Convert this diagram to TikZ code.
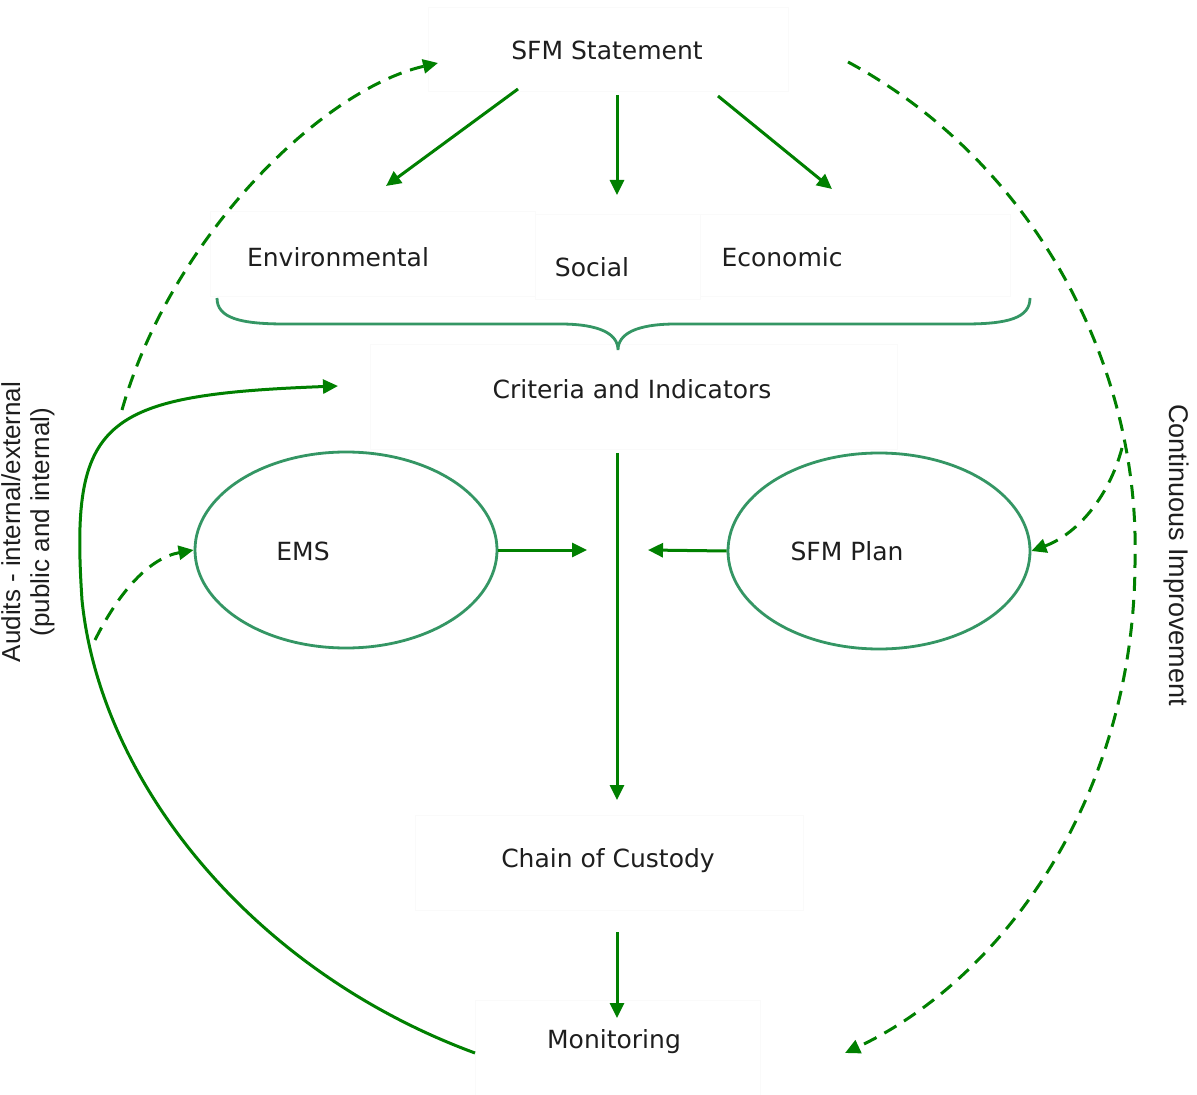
\documentclass[tikz,border=0pt]{standalone}
\usepackage{fontspec}
\setmainfont{DejaVu Sans}
\newfontfamily\libsans{Liberation Sans}
\usetikzlibrary{arrows.meta,shapes.geometric}
\definecolor{arrgreen}{RGB}{0,128,0}
\definecolor{shapegreen}{RGB}{52,150,100}
\definecolor{txtgray}{RGB}{30,30,30}
\begin{document}
\begin{tikzpicture}[x=0.5pt,y=-0.5pt,
  lbl/.style={font=\fontsize{12.5}{15}\selectfont, text=txtgray, inner sep=0pt},
  sidelbl/.style={font=\libsans\fontsize{13.5}{16}\selectfont, text=txtgray, inner sep=0pt},
  conn/.style={draw=arrgreen, line width=1.5pt, -{Triangle[length=7.5pt,width=7pt]}},
  dashconn/.style={conn, dash pattern=on 7pt off 4.5pt},
  oval/.style={draw=shapegreen, line width=1.4pt, ellipse, minimum width=151pt, minimum height=98pt, inner sep=0pt},
  ghost/.style={draw=black!2, line width=0.5pt},
  bracestyle/.style={draw=shapegreen, line width=1.4pt}]
\useasboundingbox (0,0) rectangle (1197,1095);
\fill[white] (0,0) rectangle (1197,1095);

% faint text frames
\draw[ghost] (428,8) rectangle (788,92);
\draw[ghost] (210,212) rectangle (535,297);
\draw[ghost] (535,215) rectangle (700,300);
\draw[ghost] (700,215) rectangle (1010,297);
\draw[ghost] (370,345) rectangle (897,450);
\draw[ghost] (415,815) rectangle (803,910);
\draw[ghost] (475,1000) rectangle (760,1095);

% texts
\node[lbl] (sfm) at (607,50) {SFM Statement};
\node[lbl] (env) at (338,257) {Environmental};
\node[lbl] (soc) at (592,267) {Social};
\node[lbl] (eco) at (782,257) {Economic};
\node[lbl] (crit) at (632,389) {Criteria and Indicators};
\node[oval] (emsO) at (346,550) {};
\node[lbl] (ems) at (303,551) {EMS};
\node[oval] (planO) at (879,551) {};
\node[lbl] (plan) at (847,551) {SFM Plan};
\node[lbl] (coc) at (608,861) {Chain of Custody};
\node[lbl] (mon) at (614,1042) {Monitoring};
\node[sidelbl, rotate=-90] (contimp) at (1176,555) {Continuous Improvement};
\node[sidelbl, font=\libsans\fontsize{13}{14.5}\selectfont, rotate=90, align=center] (audits) at (28,522) {Audits - internal/external\\(public and internal)};

% brace
\draw[bracestyle] (217,298) .. controls (217,318) and (240,324) .. (285,324)
  -- (560,324) .. controls (600,324) and (618,334) .. (618,350)
  .. controls (618,334) and (636,324) .. (676,324)
  -- (965,324) .. controls (1008,324) and (1030,318) .. (1030,298);

% endpoints
\coordinate (sfmA) at (518,89);  \coordinate (envT) at (386,186);
\coordinate (sfmB) at (617,95);  \coordinate (socT) at (617,195);
\coordinate (sfmC) at (718,96);  \coordinate (ecoT) at (832,189);
\coordinate (critB) at (617,453); \coordinate (cocT) at (617,800);
\coordinate (emsTo) at (587,550); \coordinate (planTo) at (648,550);
\coordinate (cocB) at (617,932); \coordinate (monT) at (617,1018);
\coordinate (monL) at (475,1053); \coordinate (critL) at (338,386);
\coordinate (audA) at (122,410); \coordinate (sfmL) at (438,63);
\coordinate (audB) at (95,640);
\coordinate (sfmR) at (848,62); \coordinate (monR) at (845,1053);
\coordinate (ciA) at (1122,448);

% solid arrows
\draw[conn] (sfmA) -- (envT);
\draw[conn] (sfmB) -- (socT);
\draw[conn] (sfmC) -- (ecoT);
\draw[conn] (critB) -- (cocT);
\draw[conn] (emsO.east) -- (emsTo);
\draw[conn] (planO.west) -- (planTo);
\draw[conn] (cocB) -- (monT);
\draw[conn] (monL) .. controls (250,970) and (100,780) .. (82,600)
  .. controls (70,420) and (100,395) .. (critL);

% dashed arrows
\draw[dashconn] (audA) .. controls (170,240) and (320,90) .. (sfmL);
\draw[dashconn] (audB) .. controls (120,590) and (150,558) .. (emsO.west);
\draw[dashconn] (sfmR) .. controls (1030,160) and (1140,360) .. (1135,560)
  .. controls (1135,800) and (1000,980) .. (monR);
\draw[dashconn] (ciA) .. controls (1108,500) and (1075,535) .. (planO.east);
\end{tikzpicture}
\end{document}
